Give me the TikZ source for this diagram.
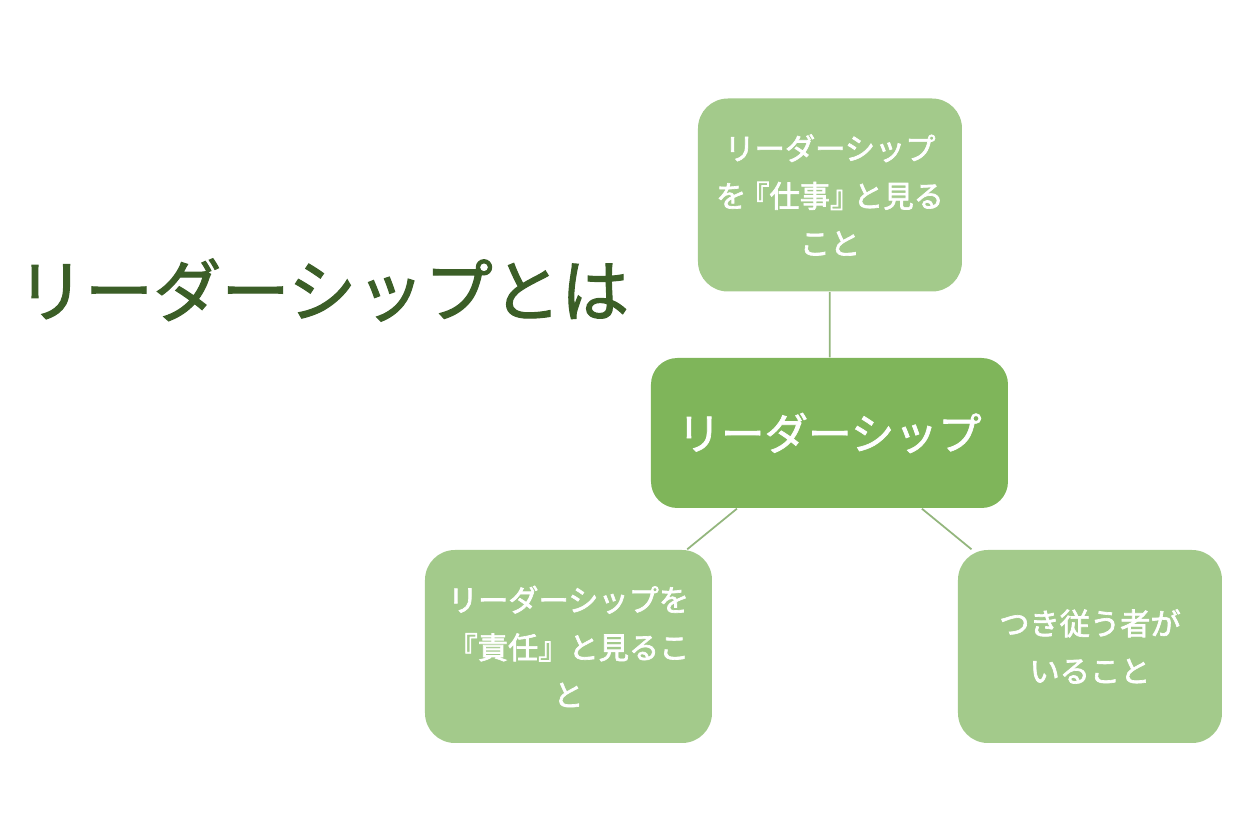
\documentclass[tikz,border=0pt]{standalone}
\usepackage{fontspec}
\setmainfont{Noto Sans CJK JP}
\newfontfamily\jpmedium{Noto Sans CJK JP}[FakeBold=1.6]
\newfontfamily\jpsemibold{Noto Sans CJK JP}[FakeBold=2.2]
\usepackage{tikz}
\usetikzlibrary{positioning}
\definecolor{leaf}{HTML}{A3CA8B}
\definecolor{core}{HTML}{7FB55A}
\definecolor{heading}{HTML}{3B5E27}
\tikzstyle{leafbox} = [rectangle, rounded corners=8.5pt, minimum width=2.64cm,
                       minimum height=1.93cm, inner sep=0pt, align=center,
                       fill=leaf, text=white, font=\fontsize{8.6pt}{13.5pt}\jpsemibold]
\tikzstyle{corebox} = [rectangle, rounded corners=7.5pt, minimum width=3.57cm,
                       minimum height=1.5cm, inner sep=0pt, align=center,
                       fill=core, text=white, font=\fontsize{12.4pt}{15pt}\jpmedium]
\tikzstyle{link}    = [draw=leaf!90!black, line width=0.5pt]

\begin{document}
\begin{tikzpicture}
  \useasboundingbox (0,0) rectangle (12.6,-8.4);

  %% ── Title ──
  \node[text=heading, font=\fontsize{19.4pt}{22pt}\jpmedium] (title) at (3.23,-2.90)
        {リーダーシップとは};

  %% ── Hub ──
  \node[corebox] (hub) at (8.295,-4.33) {リーダーシップ};

  %% ── Leaves ──
  \node[leafbox] (work) at (8.30,-1.95)
        {リーダーシップ\\を\kern-2pt『仕事』\kern-2pt と見る\\こと};
  \node[leafbox, minimum width=2.87cm] (duty) at (5.685,-6.465)
        {リーダーシップを\\『責任』と見るこ\\と};
  \node[leafbox] (follow) at (10.90,-6.465)
        {つき従う者が\\いること};

  %% ── Links ──
  \draw[link] (work) -- (hub);
  \draw[link] (hub) -- (duty);
  \draw[link] (hub) -- (follow);

\end{tikzpicture}
\end{document}
